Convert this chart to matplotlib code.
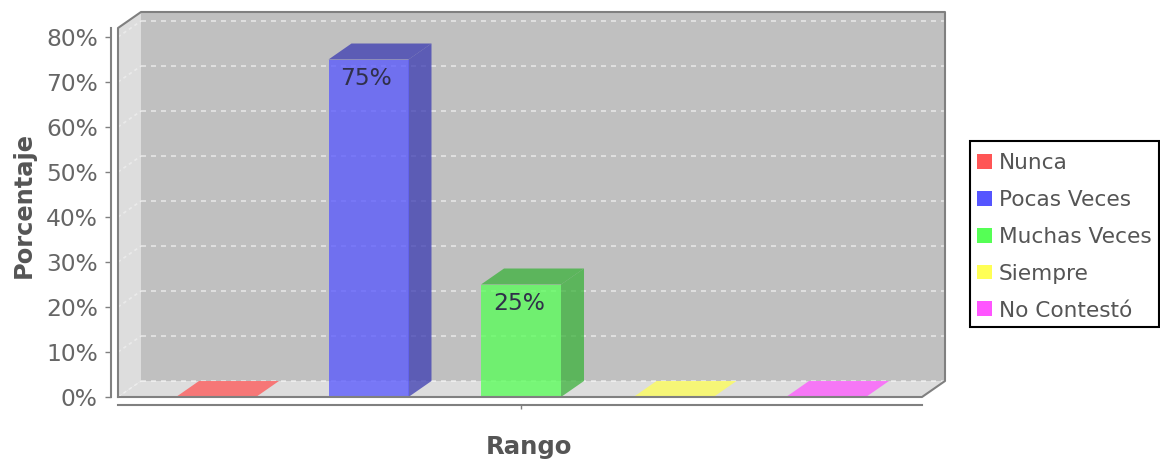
import matplotlib
matplotlib.use('Agg')
import matplotlib.pyplot as plt
from matplotlib.patches import Polygon, Patch, Rectangle

categories = ['Nunca', 'Pocas Veces', 'Muchas Veces', 'Siempre', 'No Contestó']
values = [0, 75, 25, 0, 0]
colors = ['#ff5555', '#5555ff', '#55ff55', '#ffff55', '#ff55ff']
dark_colors = ['#b23b3b', '#3b3bb2', '#3bb23b', '#b2b23b', '#b23bb2']
y_ticks = [0, 10, 20, 30, 40, 50, 60, 70, 80]

W = 1160
H = 463
fig = plt.figure(figsize=(W / 100, H / 100), dpi=100)
fig.patch.set_facecolor('white')

# front plane of the fake 3d box, in pixels
left, right, top, bottom = 118, 922, 28, 397
ax = fig.add_axes([left / W, 1 - bottom / H, (right - left) / W, (bottom - top) / H])
ax.patch.set_visible(False)

step = 152.5
first = 216
ax.set_xlim((left - first) / step, (right - first) / step)
ax.set_ylim(0, 82)
xa, xb = ax.get_xlim()
ya, yb = ax.get_ylim()

# depth of the box in data units
dx = 23 / step
dy = 16 / 4.5
width = 80 / step

def poly(pts, color, alpha=1.0, z=1, edge='none', lw=0):
    p = Polygon(pts, closed=True, facecolor=color, edgecolor=edge, linewidth=lw,
                alpha=alpha, zorder=z, clip_on=False)
    ax.add_patch(p)

# walls and floor
poly([(xa + dx, dy), (xb + dx, dy), (xb + dx, yb + dy), (xa + dx, yb + dy)], '#c0c0c0', z=1)
poly([(xa, 0), (xa + dx, dy), (xa + dx, yb + dy), (xa, yb)], '#dddddd', z=1)
poly([(xa, 0), (xb, 0), (xb + dx, dy), (xa + dx, dy)], '#dddddd', z=1)

# gridlines on the back wall and the left wall
for t in y_ticks:
    ax.plot([xa + dx, xb + dx], [t + dy, t + dy], color='white', lw=1.2,
            ls=(0, (3, 3)), alpha=0.6, zorder=2, clip_on=False)
    ax.plot([xa, xa + dx], [t, t + dy], color='white', lw=1.2,
            ls=(0, (2, 2)), alpha=0.4, zorder=2, clip_on=False)

# outline of the box
ax.plot([xa, xa, xa + dx, xb + dx, xb + dx, xb, xa],
        [0, yb, yb + dy, yb + dy, dy, 0, 0],
        color='#808080', lw=1.5, zorder=6, clip_on=False)

# bars
for i in range(len(categories)):
    v = values[i]
    x0 = i - width / 2
    x1 = i + width / 2
    top_color = colors[i] if v == 0 else dark_colors[i]
    poly([(x0, v), (x1, v), (x1 + dx, v + dy), (x0 + dx, v + dy)], top_color, 0.75, 3)
    if v > 0:
        poly([(x1, 0), (x1 + dx, dy), (x1 + dx, v + dy), (x1, v)], dark_colors[i], 0.75, 3)
        poly([(x0, 0), (x1, 0), (x1, v), (x0, v)], colors[i], 0.75, 4)
        ax.text(i - 0.015, v - 4.2, '%d%%' % v, ha='center', va='center',
                fontsize=16.8, color='#30304a', zorder=5)

# axes
for s in ['top', 'right']:
    ax.spines[s].set_visible(False)
ax.spines['left'].set_position(('outward', 5))
ax.spines['bottom'].set_position(('outward', 5.5))
ax.spines['left'].set_color('#808080')
ax.spines['bottom'].set_color('#808080')
ax.spines['left'].set_linewidth(1.5)
ax.spines['bottom'].set_linewidth(1.5)

ax.set_yticks(y_ticks)
ax.set_yticklabels(['%d%%' % t for t in y_ticks])
ax.set_xticks([2])
ax.set_xticklabels([''])
ax.tick_params(axis='y', labelsize=16.8, labelcolor='#666666', color='#808080',
               length=4, width=1, pad=5.5)
ax.tick_params(axis='x', color='#808080', length=3, width=1)

fig.text(24 / W, 1 - 205 / H, 'Porcentaje', rotation=90, ha='center', va='center',
         fontsize=17.4, fontweight='bold', color='#555555')
fig.text(529 / W, 1 - 447 / H, 'Rango', ha='center', va='center',
         fontsize=17.6, fontweight='bold', color='#555555')

# legend box is drawn apart, its padding differs in x and y
fig.add_artist(Rectangle((970 / W, 1 - 327 / H), 189 / W, 186 / H, transform=fig.transFigure,
                         facecolor='white', edgecolor='black', linewidth=1.5))
handles = [Patch(facecolor=c, edgecolor='none') for c in colors]
leg = fig.legend(handles, categories, loc='upper left',
                 bbox_to_anchor=(970 / W, 1 - 146 / H), bbox_transform=fig.transFigure,
                 fontsize=15.6, frameon=False, labelcolor='#555555', borderpad=0.32,
                 labelspacing=0.78, handlelength=0.68, handleheight=0.68,
                 handletextpad=0.34, borderaxespad=0)

fig.savefig('out.png', dpi=100)
